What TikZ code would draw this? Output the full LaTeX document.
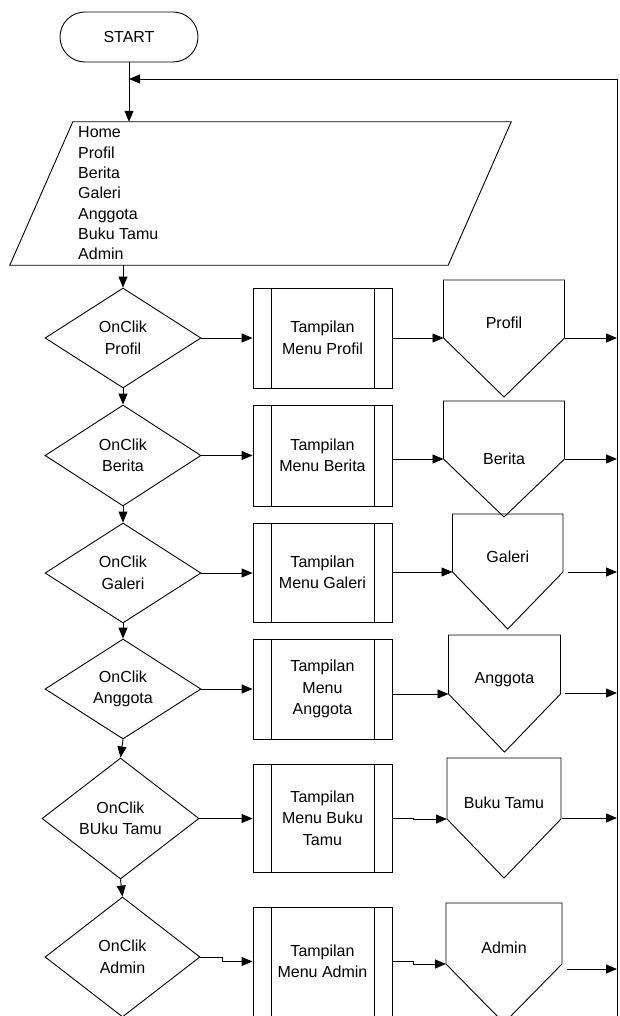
\documentclass[tikz,border=0pt]{standalone}
\usepackage{fontspec}
\setmainfont{Liberation Sans}
\usepackage{tikz}
\usetikzlibrary{shapes.geometric, arrows.meta, calc}

\begin{document}
\begin{tikzpicture}[x=1pt,y=-1pt]
	\tikzstyle{every node}=[font=\fontsize{16}{21.5}\selectfont]
	\tikzstyle{terminal}=[draw, line width=0.9pt, rounded corners=25pt, minimum width=138pt, minimum height=50pt]
	\tikzstyle{inout}=[inner sep=0pt, minimum width=501pt, minimum height=143pt]
	\tikzstyle{decision}=[draw, line width=0.9pt, diamond, aspect=1.56, inner sep=0pt, minimum width=156pt, minimum height=100pt, align=center]
	\tikzstyle{proc}=[draw, line width=0.9pt, minimum width=139pt, minimum height=100pt, align=center,
		path picture={\draw[line width=0.9pt] ([xshift=18pt]path picture bounding box.north west) -- ([xshift=18pt]path picture bounding box.south west)
			([xshift=-18pt]path picture bounding box.north east) -- ([xshift=-18pt]path picture bounding box.south east);}]
	\tikzstyle{outline}=[line width=0.9pt, line join=miter]
	\tikzstyle{pglabel}=[inner sep=0pt, text height=11.5pt, text depth=0pt]
	\tikzstyle{flow}=[line width=0.9pt, -{Triangle[length=11pt,width=9pt]}]

	\useasboundingbox (0,0) rectangle (620,1016);

	% start and menu list
	\node[terminal] (start) at (129,37) {START};
	\node[inout] (io) at (260.5,193.5) {};
	\draw[outline] (io.south west) -- ($(io.north west)+(63,0)$) -- (io.north east) -- ($(io.south east)+(-63,0)$) -- cycle;
	\foreach \t [count=\i] in {Home,Profil,Berita,Galeri,Anggota,Buku Tamu,Admin}
		\node[anchor=base west, inner sep=0pt] (menu\i) at (78,{117.4+20.33*\i}) {\t};

	% decisions
	\node[decision] (d1) at (123,338) {OnClik\\Profil};
	\node[decision, minimum height=101pt] (d2) at (123,455.5) {OnClik\\Berita};
	\node[decision] (d3) at (123,573) {OnClik\\Galeri};
	\node[decision] (d4) at (123,689) {OnClik\\Anggota};
	\node[decision, aspect=1.3, minimum width=157pt, minimum height=121pt] (d5) at (120.5,818.5) {OnClik\\BUku Tamu};
	\node[decision, aspect=1.3, minimum width=155pt, minimum height=120pt] (d6) at (122.5,957) {OnClik\\Admin};

	% menu pages
	\node[proc] (tm1) at (322.5,338) {Tampilan\\Menu Profil};
	\node[proc, minimum height=101pt] (tm2) at (322.5,455.5) {Tampilan\\Menu Berita};
	\node[proc, minimum height=99pt] (tm3) at (322.5,572.5) {Tampilan\\Menu Galeri};
	\node[proc] (tm4) at (322.5,689) {Tampilan\\Menu\\Anggota};
	\node[proc, minimum height=108pt] (tm5) at (322.5,818) {Tampilan\\Menu Buku\\Tamu};
	\node[proc, minimum height=109pt] (tm6) at (322.5,961.5) {Tampilan\\Menu Admin};

	% off-page connectors
	\foreach \n/\xl/\xr/\ya/\yb/\yc/\yl/\xo/\yo/\name in {
		1/443.5/564.5/280/338/397/323/565/338/Profil,
		2/443.5/564.5/401/459/517/459/565/459/Berita,
		3/452.5/563/514/572/629/557/568/572/Galeri,
		4/448.5/560.5/635/694/752/678/565/693/Anggota,
		5/447/561/758/819/878/803/562/818/Buku Tamu,
		6/446/562/903/964/1023/948/567/969/Admin}
	{
		\draw[outline] (\xl,\ya) -- (\xr,\ya) -- (\xr,\yb) -- ({(\xl+\xr)/2},\yc) -- (\xl,\yb) -- cycle;
		\coordinate (in\n) at (\xl,\yb);
		\coordinate (out\n) at (\xo,\yo);
		\coordinate (back\n) at (617,\yo);
		\node[pglabel] (pg\n) at ({(\xl+\xr)/2},\yl) {\name};
		\draw[flow] (out\n) -- (back\n);
	}

	% main flow
	\coordinate (join) at (129,79);
	\coordinate (loopend) at (617,1016);
	\draw[flow] (start) -- (start.south |- io.north);
	\draw[flow] (loopend) -- (loopend |- join) -- (join);
	\draw[flow] (d1.north |- io.south) -- (d1.north);
	\draw[flow] (d1.south) -- (d2.north);
	\draw[flow] (d2.south) -- (d3.north);
	\draw[flow] (d3.south) -- (d4.north);
	\draw[flow] (d4.south) -- (d5.north);
	\draw[flow] (d5.south) -- (d6.north);

	\draw[flow] (d1.east) -- (d1.east -| tm1.west);
	\draw[flow] (d2.east) -- (d2.east -| tm2.west);
	\draw[flow] (d3.east) -- (d3.east -| tm3.west);
	\draw[flow] (d4.east) -- (d4.east -| tm4.west);
	\draw[flow] (d5.east) -- (d5.east -| tm5.west);
	\draw[flow] (d6.east) -- ++(22,0) |- (tm6.west);

	\draw[flow] (tm1.east |- in1) -- (in1);
	\draw[flow] (tm2.east |- in2) -- (in2);
	\draw[flow] (tm3.east |- in3) -- (in3);
	\draw[flow] (tm4.east |- in4) -- (in4);
	\draw[flow] (tm5.east) -- ++(21,0) |- (in5);
	\draw[flow] (tm6.east) -- ++(21,0) |- (in6);
\end{tikzpicture}
\end{document}
